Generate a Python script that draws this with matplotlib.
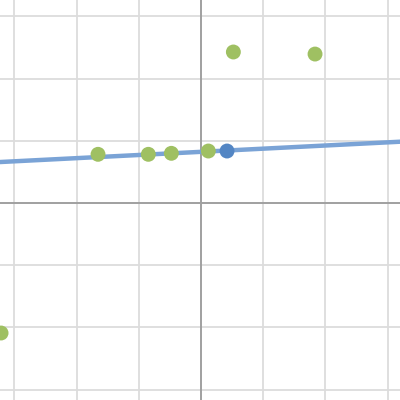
import matplotlib.pyplot as plt

# data points (grid units)
pts_x = [-1.656, -0.847, -0.477, 0.118, 0.520, 1.833, -3.215]
pts_y = [0.783, 0.783, 0.799, 0.836, 2.428, 2.395, -2.09]
sel_x = [0.418]
sel_y = [0.836]

# fitted line
slope = 0.0508
intercept = 0.823

fig = plt.figure(figsize=(4, 4), dpi=100)
ax = fig.add_axes([0, 0, 1, 1])

ax.set_xlim(-3.232, 3.199)
ax.set_ylim(-3.167, 3.264)

grid = [-3, -2, -1, 1, 2, 3]
for g in grid:
    ax.axvline(g, color='#dcdcdc', lw=1.3, zorder=0)
    ax.axhline(g, color='#dcdcdc', lw=1.3, zorder=0)
ax.axvline(0, color='#a0a0a0', lw=1.4, zorder=1)
ax.axhline(0, color='#a0a0a0', lw=1.4, zorder=1)

ax.axline((0, intercept), slope=slope, color='#7aa3d6', lw=3.2, zorder=2)
ax.scatter(pts_x, pts_y, s=115, color='#9fc062', edgecolors='none', zorder=3)
ax.scatter(sel_x, sel_y, s=115, color='#5386c4', edgecolors='none', zorder=4)

ax.set_xticks([])
ax.set_yticks([])
for s in ax.spines.values():
    s.set_visible(False)

plt.savefig('out.png', dpi=100)
